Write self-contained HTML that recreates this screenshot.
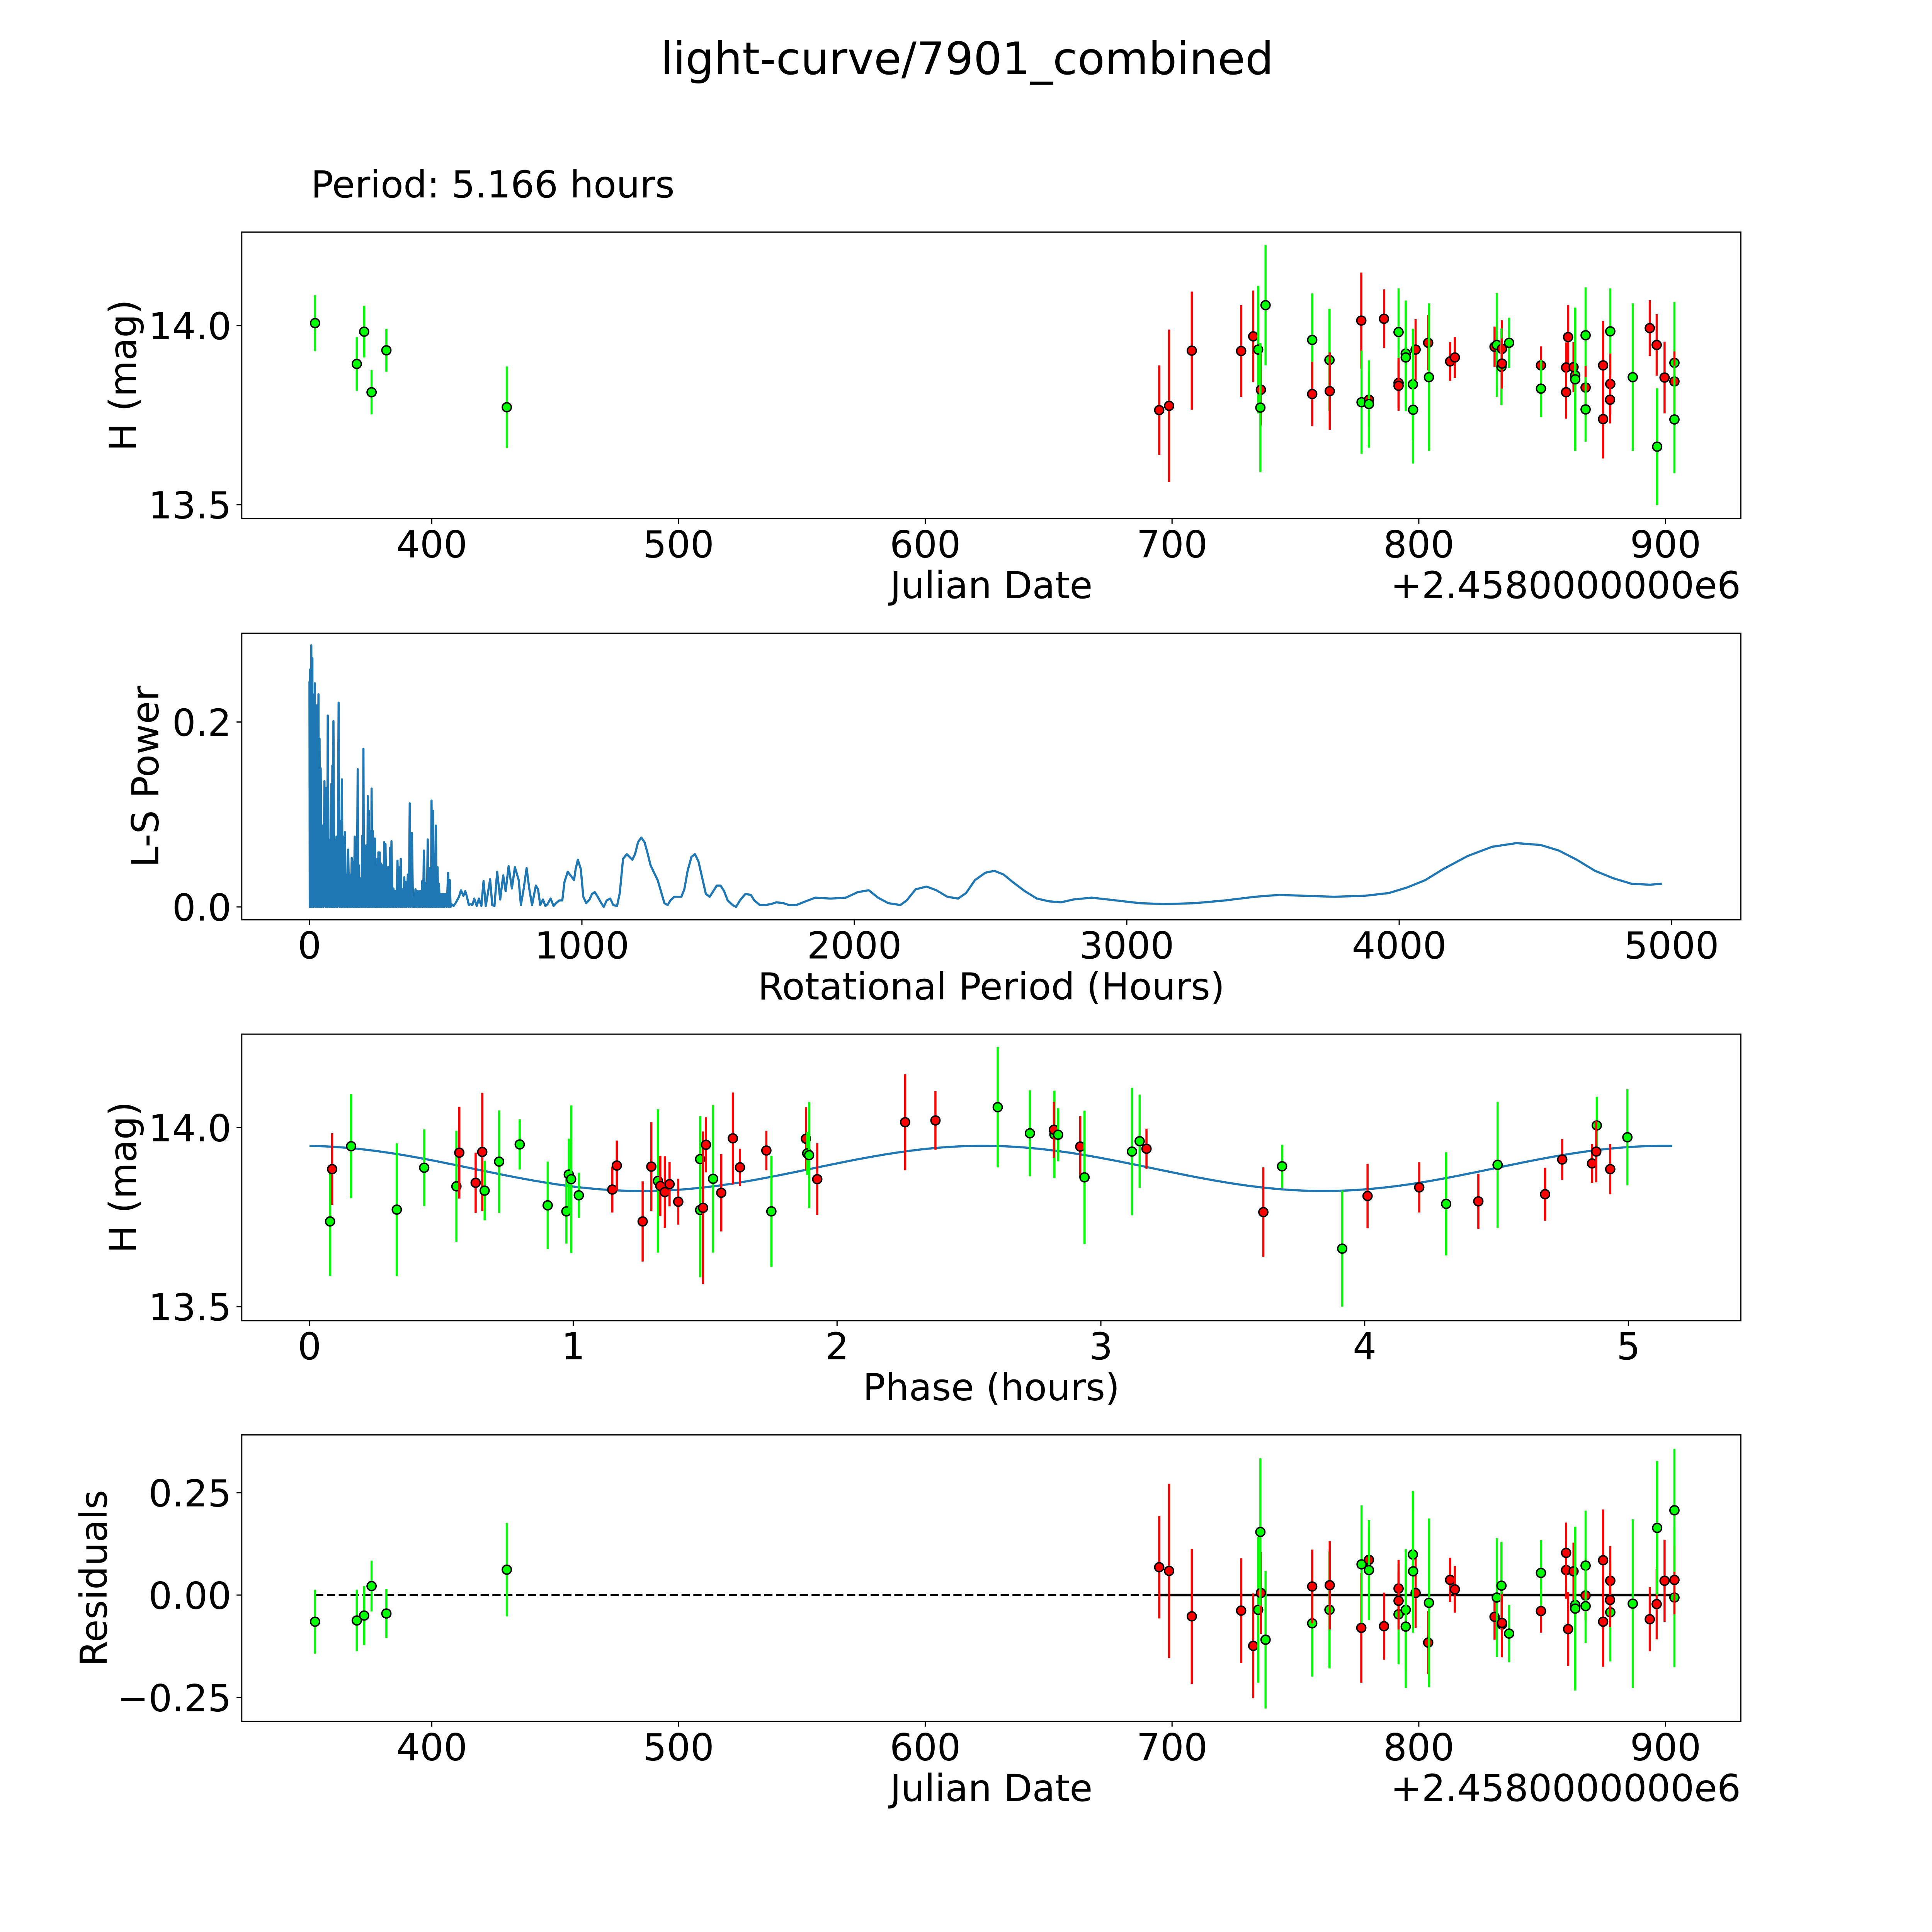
<!DOCTYPE html>
<html><head><meta charset="utf-8"><title>light-curve/7901_combined</title>
<style>
html,body{margin:0;padding:0;background:#fff;overflow:hidden;}
svg{display:block;font-family:"DejaVu Sans","Liberation Sans",sans-serif;}
</style></head>
<body>
<svg width="5400" height="5400" viewBox="0 0 5400 5400" xmlns="http://www.w3.org/2000/svg">
<rect x="0" y="0" width="5400" height="5400" fill="#fff"/>
<g id="fig" transform="scale(0.927)">
<text x="2700" y="207" font-size="125" text-anchor="middle">light-curve/7901_combined</text>
<text x="868" y="551" font-size="104">Period: 5.166 hours</text>
</g>
</svg>
<script>
// ---------- Light-curve observations (date offset from 2458000, H mag) ----------
const obsDates = [352.7,369.6,372.6,375.6,381.6,430.4,
694.8,698.8,708.0,728.0,732.9,734.9,737.9,736.0,735.8,756.8,756.8,763.8,763.9,776.7,776.8,779.8,779.8,785.9,791.8,791.8,791.8,794.7,794.7,798.7,797.6,797.7,803.8,804.1,812.7,814.6,830.7,831.6,833.7,833.5,833.7,836.6,849.5,849.5,860.5,863.4,859.7,859.7,862.7,863.4,867.6,867.6,867.6,874.7,874.7,877.6,877.6,877.5,886.7,893.6,896.4,896.6,899.6,903.6,903.6,903.6];
const obsMags = [14.007,13.893,13.983,13.814,13.931,13.772,
13.764,13.776,13.930,13.929,13.970,13.933,14.057,13.821,13.771,13.960,13.809,13.904,13.817,14.014,13.786,13.793,13.781,14.019,13.982,13.840,13.832,13.922,13.911,13.933,13.836,13.765,13.952,13.856,13.900,13.911,13.941,13.946,13.935,13.885,13.894,13.952,13.889,13.824,13.968,13.861,13.883,13.814,13.884,13.850,13.973,13.827,13.766,13.889,13.739,13.984,13.837,13.793,13.856,13.993,13.946,13.662,13.855,13.896,13.844,13.738];
const obsErrs = [0.078,0.075,0.072,0.062,0.06,0.114,
0.125,0.213,0.165,0.128,0.128,0.178,0.168,0.10,0.18,0.13,0.09,0.143,0.108,0.134,0.144,0.077,0.122,0.082,0.122,0.07,0.07,0.148,0.15,0.085,0.155,0.15,0.077,0.206,0.054,0.057,0.056,0.145,0.08,0.107,0.07,0.07,0.053,0.08,0.09,0.186,0.07,0.074,0.07,0.2,0.134,0.06,0.09,0.124,0.11,0.12,0.085,0.066,0.206,0.078,0.086,0.163,0.1,0.17,0.084,0.15];
const obsColors = ['g','g','g','g','g','g',
'r','r','r','r','r','g','g','r','g','g','r','g','r','r','g','r','g','r','g','r','r','g','g','r','g','g','r','g','r','r','r','g','r','g','r','g','r','g','r','g','r','r','r','g','g','r','g','r','r','g','r','r','g','r','r','g','r','g','r','g'];
const residuals = [-0.065,-0.062,-0.05,0.022,-0.045,0.062,
0.068,0.059,-0.052,-0.038,-0.124,-0.036,-0.109,0.005,0.154,-0.069,0.021,-0.036,0.024,-0.080,0.075,0.086,0.061,-0.076,-0.047,0.016,-0.014,-0.036,-0.077,0.005,0.099,0.058,-0.116,-0.019,0.037,0.014,-0.053,-0.006,-0.072,0.023,-0.068,-0.094,-0.039,0.054,-0.083,-0.024,0.061,0.103,0.058,-0.033,0.072,-0.001,-0.027,0.085,-0.065,-0.042,0.035,-0.012,-0.021,-0.059,-0.022,0.164,0.035,-0.006,0.037,0.207];

// ---------- Phase-folded data ----------
const phases = [0.078,0.086,0.158,0.331,0.435,0.557,0.568,0.630,0.655,0.664,0.719,0.797,0.903,0.974,0.983,0.992,1.021,1.148,1.165,1.263,1.296,1.321,1.330,1.347,1.365,1.398,1.481,1.481,1.492,1.503,1.530,1.561,1.605,1.632,1.751,1.732,1.882,1.887,1.894,1.925,2.258,2.373,
2.609,2.731,2.824,2.822,2.838,2.922,2.938,3.118,3.147,3.173,3.616,3.687,3.915,4.011,4.207,4.309,4.431,4.504,4.684,4.749,4.862,4.880,4.878,4.931,4.996];
const phaseMags = [13.738,13.884,13.948,13.771,13.888,13.836,13.930,13.846,13.932,13.824,13.905,13.953,13.783,13.766,13.869,13.856,13.811,13.827,13.894,13.738,13.891,13.851,13.837,13.820,13.842,13.793,13.770,13.912,13.776,13.952,13.857,13.818,13.970,13.889,13.766,13.936,13.969,13.928,13.923,13.856,14.015,14.020,
14.057,13.984,13.981,13.994,13.980,13.947,13.861,13.933,13.962,13.941,13.764,13.892,13.662,13.809,13.833,13.787,13.794,13.896,13.814,13.911,13.900,14.006,13.933,13.884,13.973];
const phaseErrs = [0.152,0.1,0.145,0.185,0.107,0.155,0.128,0.084,0.165,0.083,0.143,0.07,0.122,0.09,0.10,0.206,0.063,0.064,0.07,0.112,0.124,0.2,0.084,0.1,0.062,0.064,0.188,0.12,0.213,0.077,0.206,0.108,0.128,0.052,0.155,0.055,0.088,0.06,0.148,0.1,0.134,0.082,
0.168,0.12,0.122,0.078,0.074,0.085,0.186,0.178,0.13,0.056,0.125,0.06,0.162,0.09,0.07,0.144,0.077,0.176,0.074,0.057,0.054,0.08,0.086,0.07,0.134];
const phaseColors = ['g','r','g','g','g','g','r','r','r','g','g','g','g','g','g','g','g','r','r','r','r','g','r','r','r','r','g','g','r','r','g','r','r','r','g','r','r','g','g','r','r','r',
'g','g','g','r','g','r','g','g','g','r','r','g','g','r','r','g','r','g','r','r','r','g','r','r','g'];
const fitMean = 13.886, fitAmp = 0.063, fitPeriod = 5.166, fitOffset = 0.03;

// ---------- Lomb-Scargle periodogram ----------
const lsPeriods = [0,1,2.7,4,6.7,9,10.7,12,13,16,20,24,27,30,33,35,37,39,41,45,48,51,55,59,62,65,67,71,74,77,80,82,84,86,88,91,94,97,99,103,107,111,114,117,119,122,125,128,130,134,137,140,142,146,149,152,155,157,159,163,166,169,171,174,177,179,181,184,186,190,194,196,198,200,202,206,209,212,214,216,218,221,224,226,228,231,233,237,240,242,244,247,249,251,253,256,258,260,262,265,268,271,274,277,279,282,284,287,290,293,296,299,301,305,308,312,315,319,323,326,328,332,335,338,341,345,348,351,353,357,361,365,368,372,376,380,383,386,389,392,395,399,402,405,408,411,414,417,420,424,427,431,434,437,439,442,444,446,448,451,454,457,459,462,464,467,470,473,475,479,482,486,489,491,493,496,499,504,509,512,515,518,521,529,538,549,556,565,572,578,585,592,598,605,614,622,631,639,647,655,663,671,679,689,700,711,720,731,743,754,768,776,786,797,807,817,825,831,839,847,857,866,874,885,896,905,917,928,936,948,961,971,977,985,996,1005,1016,1028,1037,1047,1058,1071,1080,1091,1104,1115,1129,1139,1151,1165,1175,1185,1195,1206,1218,1230,1241,1252,1265,1278,1292,1303,1315,1325,1339,1352,1365,1376,1388,1402,1415,1428,1442,1455,1469,1482,1495,1509,1522,1535,1553,1566,1580,1600,1620,1633,1653,1673,1693,1714,1740,1760,1787,1821,1857,1913,1969,2013,2053,2087,2125,2169,2192,2225,2265,2301,2341,2381,2410,2443,2481,2514,2548,2581,2626,2670,2715,2759,2804,2871,2960,3049,3138,3249,3361,3472,3561,3650,3762,3873,3962,4029,4096,4162,4251,4341,4430,4519,4586,4652,4719,4786,4853,4920,4964,5004];
const lsPowers = [0.244,0,0.257,0,0.283,0,0.269,0,0.230,0,0.242,0,0.218,0,0.230,0,0.182,0,0.150,0,0.088,0,0.136,0,0.129,0,0.207,0,0.072,0,0.133,0,0.153,0,0.201,0,0.072,0,0.076,0,0.221,0,0.093,0,0.138,0,0.076,0,0.081,0,0.035,0,0.062,0,0.035,0,0.053,0,0.049,0,0.076,0,0.035,0,0.149,0,0.045,0,0.031,0,0.077,0,0.171,0,0.066,0,0.067,0,0.12,0,0.104,0,0.082,0,0.128,0,0.082,0,0.074,0,0.045,0,0.052,0,0.059,0,0.059,0,0.047,0,0.045,0,0.070,0,0.068,0,0.043,0,0.043,0,0.064,0,0.071,0,0.020,0,0.017,0,0.050,0,0.043,0,0.052,0,0.019,0,0.032,0,0.027,0,0.035,0,0.112,0,0.080,0,0.009,0,0.019,0,0.017,0,0.017,0,0.017,0,0.028,0,0.061,0,0.026,0,0.073,0,0.042,0,0.042,0,0.115,0,0.104,0,0.037,0,0.088,0,0.043,0,0.025,0,0.014,0,0.014,0,0.014,0,0.014,0,0.037,0,0.029,0,0.003,0.001,0.005,0.011,0.018,0.012,0.017,0.011,0.002,0.003,0.002,0.009,0.001,0.009,0.001,0.028,0.001,0.015,0.030,0.002,0.001,0.038,0.008,0.034,0.017,0.044,0.020,0.043,0.029,0.002,0.019,0.042,0.019,0.002,0.014,0.023,0.019,0.002,0.008,0.001,0.003,0.009,0.001,0.004,0.007,0.007,0.027,0.038,0.033,0.029,0.041,0.051,0.041,0.011,0.004,0.008,0.014,0.016,0.011,0.004,0.000,0.007,0.009,0.002,0.001,0.015,0.052,0.057,0.054,0.051,0.057,0.070,0.075,0.070,0.058,0.045,0.037,0.029,0.015,0.004,0.002,0.007,0.011,0.011,0.011,0.019,0.039,0.054,0.057,0.049,0.031,0.014,0.011,0.017,0.023,0.023,0.017,0.007,0.002,0.000,0.007,0.014,0.013,0.007,0.002,0.002,0.003,0.005,0.004,0.002,0.002,0.006,0.010,0.009,0.010,0.016,0.018,0.010,0.004,0.002,0.007,0.019,0.022,0.018,0.011,0.009,0.015,0.029,0.037,0.039,0.035,0.027,0.017,0.009,0.006,0.005,0.008,0.010,0.007,0.004,0.003,0.004,0.007,0.011,0.013,0.012,0.011,0.012,0.015,0.021,0.029,0.041,0.055,0.065,0.069,0.067,0.061,0.051,0.039,0.031,0.025,0.024,0.025];

// ---------- Tick labels ----------
const dateTicks = [400,500,600,700,800,900];
const magTicks = [13.5,14.0];
const magTickLabels = ['13.5','14.0'];
const periodTicks = [0,1000,2000,3000,4000,5000];
const powerTicks = [0.0,0.2];
const powerTickLabels = ['0.0','0.2'];
const phaseTicks = [0,1,2,3,4,5];
const residTicks = [-0.25,0,0.25];
const residTickLabels = ['\u22120.25','0.00','0.25'];

const NS = 'http://www.w3.org/2000/svg';
const svg = document.getElementById('fig');
const L = 675, R = 4860;
const COLORS = {r:'#ff0000', g:'#00ff00'};

function el(tag, attrs, parent){
  const e = document.createElementNS(NS, tag);
  for (const k in attrs) e.setAttribute(k, attrs[k]);
  (parent||svg).appendChild(e);
  return e;
}
function lin(d0,d1,p0,p1){ return v => p0 + (v-d0)*(p1-p0)/(d1-d0); }

function makeAxes(name, top, xmin, xmax, ymin, ymax){
  const g = el('g', {});
  
  
  const bottom = top + 800;
  return {g, top, bottom, x: lin(xmin,xmax,L,R), y: lin(ymin,ymax,bottom,top)};
}
function drawFrame(ax, xt, xl, yt, yl, ylabel, ylabelX, xlabel, offsetText){
  const g = ax.g;
  const fr = el('rect', {x:L, y:ax.top, width:R-L, height:800, fill:'none', stroke:'#000', 'stroke-width':3.3}, g);
  
  
  xt.forEach((v,i) => {
    const X = ax.x(v);
    const t = el('line', {x1:X, x2:X, y1:ax.bottom, y2:ax.bottom+14.6, stroke:'#000', 'stroke-width':3.3}, g);
    
    
    const lb = el('text', {x:X, y:ax.bottom+108, 'font-size':104, 'text-anchor':'middle'}, g);
    
    
    lb.textContent = xl[i];
  });
  yt.forEach((v,i) => {
    const Y = ax.y(v);
    const t = el('line', {x1:L-14.6, x2:L, y1:Y, y2:Y, stroke:'#000', 'stroke-width':3.3}, g);
    
    
    const lb = el('text', {x:L-29, y:Y+38, 'font-size':104, 'text-anchor':'end'}, g);
    
    
    lb.textContent = yl[i];
  });
  const cy = ax.top + 400;
  const yl2 = el('text', {x:ylabelX, y:cy, 'font-size':104, 'text-anchor':'middle', 'dominant-baseline':'central', transform:'rotate(-90 '+ylabelX+' '+cy+')'}, g);
  
  
  yl2.textContent = ylabel;
  const xl2 = el('text', {x:(L+R)/2, y:ax.bottom+222, 'font-size':104, 'text-anchor':'middle'}, g);
  
  
  xl2.textContent = xlabel;
  if (offsetText){
    const ot = el('text', {x:R, y:ax.bottom+222, 'font-size':104, 'text-anchor':'end'}, g);
    
    
    ot.textContent = offsetText;
  }
}
function drawPoints(ax, xs, ys, es, cs, prefix){
  const g = el('g', {}, ax.g);
  
  
  xs.forEach((xv,i) => {
    const X = ax.x(xv);
    const b = el('line', {x1:X, x2:X, y1:ax.y(ys[i]-es[i]), y2:ax.y(ys[i]+es[i]), stroke:COLORS[cs[i]], 'stroke-width':6}, g);
    
    
    const c = el('circle', {cx:X, cy:ax.y(ys[i]), r:12.5, fill:COLORS[cs[i]], stroke:'#000', 'stroke-width':4}, g);
    
    
  });
}

// Panel 1: light curve vs Julian date
const ax1 = makeAxes('light-curve-panel', 648, 323, 930.5, 13.461, 14.261);
drawPoints(ax1, obsDates, obsMags, obsErrs, obsColors, 'light-curve');
drawFrame(ax1, dateTicks, dateTicks.map(String), magTicks, magTickLabels, 'H (mag)', 344, 'Julian Date', '+2.4580000000e6');

// Panel 2: periodogram
const ax2 = makeAxes('periodogram-panel', 1768, -248.5, 5254, -0.014, 0.296);
const pd = lsPeriods.map((p,i) => (i?'L':'M') + ax2.x(p).toFixed(1) + ' ' + ax2.y(lsPowers[i]).toFixed(1)).join(' ');
const lsLine = el('path', {d:pd, fill:'none', stroke:'#1f77b4', 'stroke-width':6, 'stroke-linejoin':'round'}, ax2.g);


drawFrame(ax2, periodTicks, periodTicks.map(String), powerTicks, powerTickLabels, 'L-S Power', 406, 'Rotational Period (Hours)', null);

// Panel 3: phase-folded light curve
const ax3 = makeAxes('phase-panel', 2887, -0.2566, 5.426, 13.461, 14.261);
const fitPts = [];
for (let k=0;k<=200;k++){
  const ph = fitPeriod*k/200;
  const m = fitMean + fitAmp*Math.cos(4*Math.PI*(ph+fitOffset)/fitPeriod);
  fitPts.push((k?'L':'M') + ax3.x(ph).toFixed(1) + ' ' + ax3.y(m).toFixed(1));
}
const fitLine = el('path', {d:fitPts.join(' '), fill:'none', stroke:'#1f77b4', 'stroke-width':6}, ax3.g);


drawPoints(ax3, phases, phaseMags, phaseErrs, phaseColors, 'phase');
drawFrame(ax3, phaseTicks, phaseTicks.map(String), magTicks, magTickLabels, 'H (mag)', 344, 'Phase (hours)', null);

// Panel 4: residuals
const ax4 = makeAxes('residuals-panel', 4006, 323, 930.5, -0.3086, 0.391);
const dMin = Math.min(...obsDates), dMax = Math.max(...obsDates);
const zl = el('line', {x1:ax4.x(dMin), x2:ax4.x(dMax), y1:ax4.y(0), y2:ax4.y(0), stroke:'#000', 'stroke-width':6, 'stroke-dasharray':'23 10'}, ax4.g);


const denseStart = obsDates[6];
const zl2 = el('line', {x1:ax4.x(denseStart), x2:ax4.x(dMax), y1:ax4.y(0), y2:ax4.y(0), stroke:'#000', 'stroke-width':7}, ax4.g);


drawPoints(ax4, obsDates, residuals, obsErrs, obsColors, 'residual');
drawFrame(ax4, dateTicks, dateTicks.map(String), residTicks, residTickLabels, 'Residuals', 262, 'Julian Date', '+2.4580000000e6');
</script>
</body></html>
